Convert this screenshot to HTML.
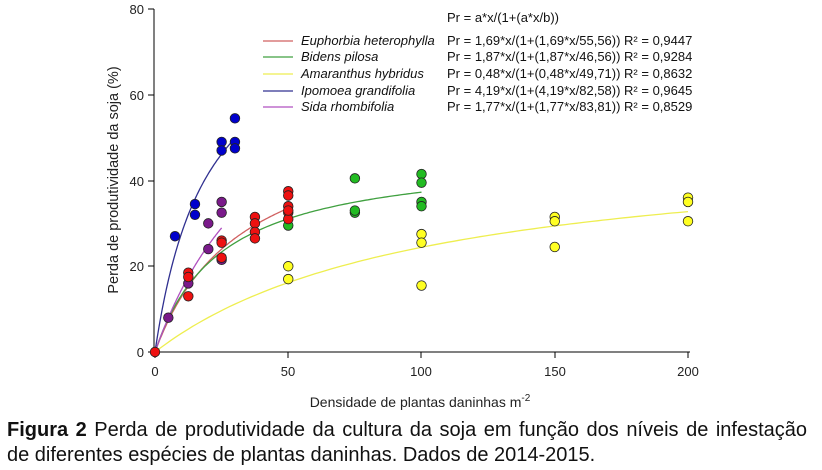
<!DOCTYPE html>
<html><head><meta charset="utf-8"><style>
body{margin:0;background:#fff;width:822px;height:470px;overflow:hidden;font-family:"Liberation Sans",sans-serif}
svg text{font-family:"Liberation Sans",sans-serif}
.cap{position:absolute;left:7px;top:418px;font-size:20px;line-height:25px;color:#111;width:800px;white-space:nowrap}
.l1{text-align:justify;text-align-last:justify;width:800px}
</style></head><body>
<svg id="s" width="822" height="420" style="position:absolute;left:0;top:0">
<g stroke="#000" stroke-width="1" fill="none">
<line x1="154" y1="9" x2="154" y2="352"/>
<line x1="154" y1="352" x2="690" y2="352"/>
<line x1="148" y1="9" x2="154" y2="9"/><line x1="148" y1="95" x2="154" y2="95"/><line x1="148" y1="181" x2="154" y2="181"/><line x1="148" y1="266" x2="154" y2="266"/><line x1="148" y1="352" x2="154" y2="352"/>
<line x1="155" y1="352" x2="155" y2="358"/><line x1="288" y1="352" x2="288" y2="358"/><line x1="421" y1="352" x2="421" y2="358"/><line x1="555" y1="352" x2="555" y2="358"/><line x1="688" y1="352" x2="688" y2="358"/>
</g>
<g font-size="13" fill="#222" text-anchor="end">
<text x="144" y="14">80</text><text x="144" y="100">60</text><text x="144" y="186">40</text><text x="144" y="271">20</text><text x="144" y="357">0</text>
</g>
<g font-size="13" fill="#222" text-anchor="middle">
<text x="155" y="376">0</text><text x="288" y="376">50</text><text x="421" y="376">100</text><text x="555" y="376">150</text><text x="688" y="376">200</text>
<text x="420" y="407" font-size="14">Densidade de plantas daninhas m<tspan dy="-6" font-size="10">-2</tspan></text>
</g>
<text transform="translate(118,180) rotate(-90)" text-anchor="middle" font-size="14.5" fill="#222">Perda de produtividade da soja (%)</text>
<g id="curves" fill="none" stroke-width="1.3"></g>
<g id="pts" stroke="#222" stroke-width="0.8"></g>
<g font-size="13" fill="#111">
<text x="447" y="22">Pr = a*x/(1+(a*x/b))</text>
<g font-style="italic"><text x="301" y="45">Euphorbia heterophylla</text><text x="301" y="61">Bidens pilosa</text><text x="301" y="78">Amaranthus hybridus</text><text x="301" y="95">Ipomoea grandifolia</text><text x="301" y="111">Sida rhombifolia</text></g>
<text x="447" y="45">Pr = 1,69*x/(1+(1,69*x/55,56))  R² = 0,9447</text>
<text x="447" y="61">Pr = 1,87*x/(1+(1,87*x/46,56))  R² = 0,9284</text>
<text x="447" y="78">Pr = 0,48*x/(1+(0,48*x/49,71))  R² = 0,8632</text>
<text x="447" y="95">Pr = 4,19*x/(1+(4,19*x/82,58))  R² = 0,9645</text>
<text x="447" y="111">Pr = 1,77*x/(1+(1,77*x/83,81))  R² = 0,8529</text>
</g>
<g stroke-width="1.3"><line x1="263" y1="41" x2="293" y2="41" stroke="#d06060"/><line x1="263" y1="57" x2="293" y2="57" stroke="#40a040"/><line x1="263" y1="74" x2="293" y2="74" stroke="#eeee50"/><line x1="263" y1="91" x2="293" y2="91" stroke="#303090"/><line x1="263" y1="107" x2="293" y2="107" stroke="#b050c0"/></g>
</svg>
<div class="cap"><div class="l1"><b>Figura 2</b> Perda de produtividade da cultura da soja em função dos níveis de infestação</div><div>de diferentes espécies de plantas daninhas. Dados de 2014-2015.</div></div>
<script>
var X=function(x){return 155+x*2.665},Y=function(y){return 352-y*4.2875};
var ns="http://www.w3.org/2000/svg";
var C=[[1.69,55.56,50,"#d06060"],[1.87,46.56,100,"#40a040"],[0.48,49.71,200,"#eeee50"],[4.19,82.58,30,"#303090"],[1.77,83.81,25,"#b050c0"]];
C.forEach(function(c){var d="";for(var i=0;i<=100;i++){var x=c[2]*i/100,y=c[0]*x/(1+c[0]*x/c[1]);d+=(i?"L":"M")+X(x).toFixed(1)+","+Y(y).toFixed(1);}var p=document.createElementNS(ns,"path");p.setAttribute("d",d);p.setAttribute("stroke",c[3]);document.getElementById("curves").appendChild(p);});
var P={"#ffff22":[[50,20],[50,17],[100,27.5],[100,25.5],[100,15.5],[150,31.5],[150,30.5],[150,24.5],[200,36],[200,35],[200,30.5]],
"#22bb22":[[50,29.5],[75,40.5],[75,32.5],[75,33],[100,41.5],[100,39.5],[100,35],[100,34]],
"#0000cc":[[7.5,27],[15,34.5],[15,32],[25,49],[25,47],[30,54.5],[30,49],[30,47.5]],
"#7a1a8a":[[5,8],[12.5,16],[20,30],[20,24],[25,35],[25,32.5],[25,21.5]],
"#ee1111":[[0,0],[12.5,18.5],[12.5,17.5],[12.5,13],[25,26],[25,25.5],[25,22],[37.5,31.5],[37.5,30],[37.5,28],[37.5,26.5],[50,37.5],[50,36.5],[50,34],[50,32.5],[50,31],[50,33]]};
for(var k in P)P[k].forEach(function(q){var e=document.createElementNS(ns,"circle");e.setAttribute("cx",X(q[0]));e.setAttribute("cy",Y(q[1]));e.setAttribute("r",4.8);e.setAttribute("fill",k);document.getElementById("pts").appendChild(e);});
</script>
</body></html>
